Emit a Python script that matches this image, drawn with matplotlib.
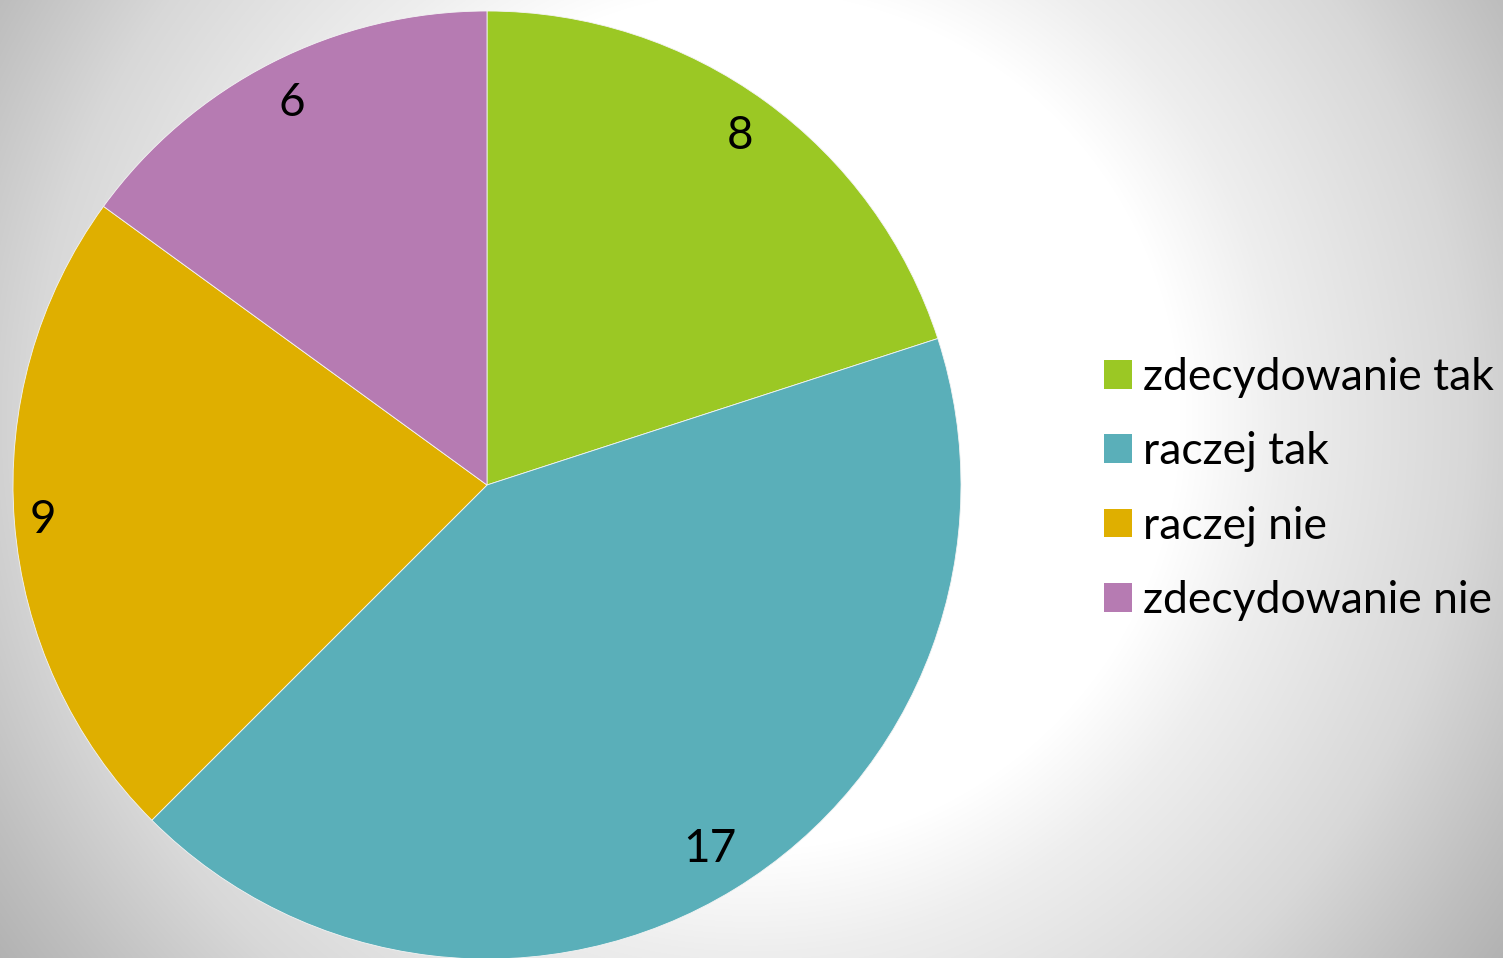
import numpy as np
import matplotlib
matplotlib.use("Agg")
import matplotlib.pyplot as plt

# Survey answers
categories = ["zdecydowanie tak", "raczej tak", "raczej nie", "zdecydowanie nie"]
counts = [8, 17, 9, 6]
colors = ["#9BC824", "#5AAFB9", "#DFAF00", "#B67BB2"]

W, H = 1503, 958
plt.rcParams["font.family"] = ["Lato", "DejaVu Sans"]

fig = plt.figure(figsize=(W / 100, H / 100), dpi=100)

# Radial grey-to-white backdrop
bg = fig.add_axes([0, 0, 1, 1], zorder=0)
yy, xx = np.mgrid[0:H, 0:W]
r = np.hypot(xx - 750, yy - 420)
shade = np.interp(r, [430, 531, 717, 850, 950], [255, 238, 216, 191, 174]) / 255.0
bg.imshow(np.dstack([shade, shade, shade]), extent=(0, W, H, 0), aspect="auto")
bg.axis("off")

ax = fig.add_axes([0, 0, 1, 1], zorder=1)
ax.patch.set_alpha(0)
total = sum(counts)
center = (487, H - 485)
radius = 474
wedges, _, autotexts = ax.pie(
    counts,
    colors=colors,
    startangle=90,
    counterclock=False,
    center=center,
    radius=radius,
    autopct=lambda p: f"{round(p * total / 100)}",
    pctdistance=0.91,
    wedgeprops=dict(edgecolor="#f4f4f4", linewidth=0.6),
    textprops=dict(fontsize=33, color="black"),
)

# Nudge value labels to sit comfortably inside each slice
label_dist = [0.91, 0.90, 0.94, 0.905]
for w, t, d in zip(wedges, autotexts, label_dist):
    mid = np.deg2rad((w.theta1 + w.theta2) / 2)
    t.set_position((center[0] + d * radius * np.cos(mid),
                    center[1] + d * radius * np.sin(mid)))

ax.set_xlim(0, W)
ax.set_ylim(0, H)
ax.set_aspect("equal")
ax.axis("off")

leg = ax.legend(
    wedges,
    categories,
    loc="center left",
    bbox_to_anchor=(1104 / W, 1 - 489 / H),
    frameon=False,
    fontsize=32,
    handlelength=0.62,
    handleheight=0.62,
    handletextpad=0.26,
    labelspacing=0.75,
    borderpad=0,
    borderaxespad=0,
)
for h in leg.legend_handles:
    h.set_edgecolor("none")

fig.savefig("out.png", dpi=100)
